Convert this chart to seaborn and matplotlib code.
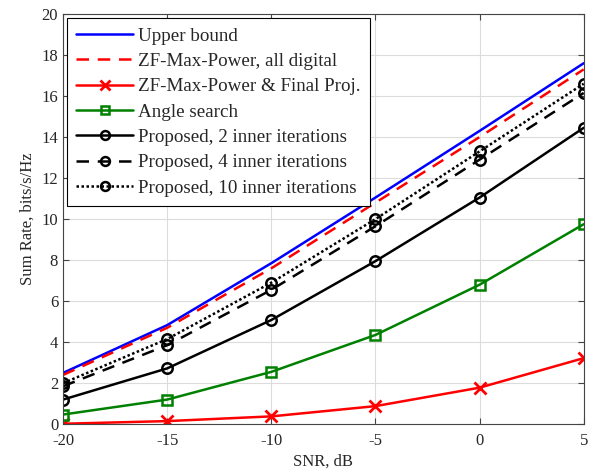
import numpy as np
import pandas as pd
import matplotlib
matplotlib.use("Agg")
import matplotlib.pyplot as plt
import seaborn as sns

snr = [-20, -15, -10, -5, 0, 5]
upper_bound = [2.5, 4.83, 7.85, 11.05, 14.3, 17.6]
zf_all_digital = [2.4, 4.7, 7.6, 10.8, 14.0, 17.3]
zf_final_proj = [0.02, 0.15, 0.38, 0.88, 1.78, 3.22]
angle_search = [0.47, 1.2, 2.55, 4.35, 6.8, 9.75]
proposed_2 = [1.2, 2.72, 5.08, 7.95, 11.05, 14.45]
proposed_4 = [1.85, 3.85, 6.55, 9.65, 12.9, 16.15]
proposed_10 = [2.0, 4.15, 6.9, 10.0, 13.3, 16.6]

sns.set_style("ticks")
plt.rcParams['font.family'] = ['Liberation Serif', 'DejaVu Serif']
plt.rcParams['axes.unicode_minus'] = False

fig = plt.figure(figsize=(5.95, 4.75), dpi=100)
ax = fig.add_axes([0.106, 0.107, 0.875, 0.8635])

circ = dict(marker="o", markersize=7.5, markerfacecolor="none", markeredgewidth=1.8, markeredgecolor="black")
series = [
    ("Upper bound", upper_bound, dict(color="blue", linestyle="-")),
    ("ZF-Max-Power, all digital", zf_all_digital, dict(color="red", linestyle=(0, (5, 3.5)))),
    ("ZF-Max-Power & Final Proj.", zf_final_proj, dict(color="red", linestyle="-", marker="x", markersize=8,
                                                      markeredgewidth=2, markeredgecolor="red")),
    ("Angle search", angle_search, dict(color="green", linestyle="-", marker="s", markersize=6.5,
                                        markerfacecolor="none", markeredgewidth=1.8, markeredgecolor="green")),
    ("Proposed, 2 inner iterations", proposed_2, dict(color="black", linestyle="-", **circ)),
    ("Proposed, 4 inner iterations", proposed_4, dict(color="black", linestyle=(0, (5, 3.5)), **circ)),
    ("Proposed, 10 inner iterations", proposed_10, dict(color="black", linestyle=(0, (1, 1)), **circ)),
]

for label, vals, style in series:
    df = pd.DataFrame({"snr": snr, "rate": vals})
    sns.lineplot(data=df, x="snr", y="rate", ax=ax, legend=False, linewidth=1.8, **style)
    ax.get_lines()[-1].set_label(label)
    ax.get_lines()[-1].set_linestyle(style["linestyle"])

ax.set_xlim(-20, 5)
ax.set_ylim(0, 20)
ax.set_xticks(snr)
ax.set_yticks(np.arange(0, 21, 2))
ax.grid(True, color="#dcdcdc", linewidth=0.8)
ax.set_axisbelow(True)
ax.tick_params(direction="in", top=True, right=True, labelsize=12, length=4, color="#444444")
ax.tick_params(axis="x", pad=6)
for s in ax.spines.values():
    s.set_color("#444444")
    s.set_linewidth(0.8)
ax.set_xlabel("SNR, dB", fontsize=12, labelpad=4)
ax.set_ylabel("Sum Rate, bits/s/Hz", fontsize=12)

leg = ax.legend(handles=ax.get_lines(), loc="upper left", fontsize=13.7, frameon=True, fancybox=False,
                edgecolor="black", framealpha=1, handlelength=3.0, borderpad=0.5,
                labelspacing=0.42, handletextpad=0.25, borderaxespad=0.2, markerscale=0.85)
leg.get_frame().set_linewidth(0.8)

fig.savefig("out.png", dpi=100)
